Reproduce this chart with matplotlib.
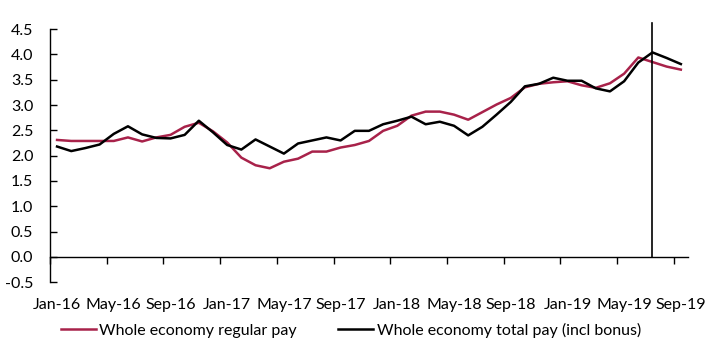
import numpy as np
import matplotlib.pyplot as plt

plt.rcParams['font.family'] = ['Lato', 'DejaVu Sans']

# monthly, Jan-16 .. Sep-19
months = ['Jan', 'Feb', 'Mar', 'Apr', 'May', 'Jun', 'Jul', 'Aug', 'Sep', 'Oct', 'Nov', 'Dec']
dates = [f"{m}-{y}" for y in ['16', '17', '18', '19'] for m in months][:45]

regular_pay = [2.31, 2.29, 2.29, 2.29, 2.29, 2.36, 2.28, 2.36, 2.41, 2.57,
               2.65, 2.48, 2.26, 1.96, 1.81, 1.75, 1.88, 1.94, 2.08, 2.08,
               2.16, 2.21, 2.29, 2.49, 2.59, 2.79, 2.87, 2.87, 2.81, 2.71,
               2.86, 3.01, 3.14, 3.35, 3.42, 3.45, 3.47, 3.39, 3.34, 3.43,
               3.62, 3.94, 3.85, 3.76, 3.70]
total_pay = [2.18, 2.09, 2.15, 2.22, 2.43, 2.58, 2.42, 2.35, 2.34, 2.41,
             2.69, 2.46, 2.21, 2.12, 2.32, 2.18, 2.04, 2.24, 2.30, 2.36,
             2.30, 2.49, 2.49, 2.62, 2.69, 2.77, 2.62, 2.67, 2.59, 2.40,
             2.57, 2.81, 3.06, 3.37, 3.42, 3.54, 3.48, 3.48, 3.33, 3.27,
             3.47, 3.84, 4.04, 3.93, 3.81]
marker_month = 'Jul-19'

x = np.arange(len(dates))

fig = plt.figure(figsize=(7.16, 3.47), dpi=100)
ax = fig.add_axes([0.0698, 0.187, 0.891, 0.729])

ax.plot(x, regular_pay, color='#A8224A', linewidth=1.8, label='Whole economy regular pay')
ax.plot(x, total_pay, color='black', linewidth=1.8, label='Whole economy total pay (incl bonus)')

vx = dates.index(marker_month)
ax.plot([vx, vx], [0, 4.62], color='black', linewidth=1.2, clip_on=False)

ax.set_xlim(-0.5, len(dates) - 0.5)
ax.set_ylim(-0.5, 4.5)
ax.set_yticks(np.arange(-0.5, 4.51, 0.5))
ax.set_yticklabels([f"{v:.1f}" for v in np.arange(-0.5, 4.51, 0.5)], fontsize=11.5)
ax.tick_params(axis='y', direction='in', length=5, width=1, pad=12, colors='black')

for s in ['top', 'right']:
    ax.spines[s].set_visible(False)
ax.spines['bottom'].set_position(('data', 0))
ax.spines['left'].set_linewidth(1)
ax.spines['bottom'].set_linewidth(1)

lab_pos = x[::4]
ax.set_xticks(lab_pos)
ax.set_xticklabels([dates[i] for i in lab_pos], fontsize=11.5)
ax.set_xticks(np.arange(-0.5, len(dates), 4), minor=True)
ax.tick_params(axis='x', which='major', length=0, pad=30)
ax.tick_params(axis='x', which='minor', direction='out', length=5, width=1)

fig.legend(*ax.get_legend_handles_labels(), loc='center', bbox_to_anchor=(0.49, 0.048),
           ncol=2, frameon=False, fontsize=11.5, handlelength=2.2, handletextpad=0.2,
           columnspacing=2.6)

fig.savefig('out.png', dpi=100)
